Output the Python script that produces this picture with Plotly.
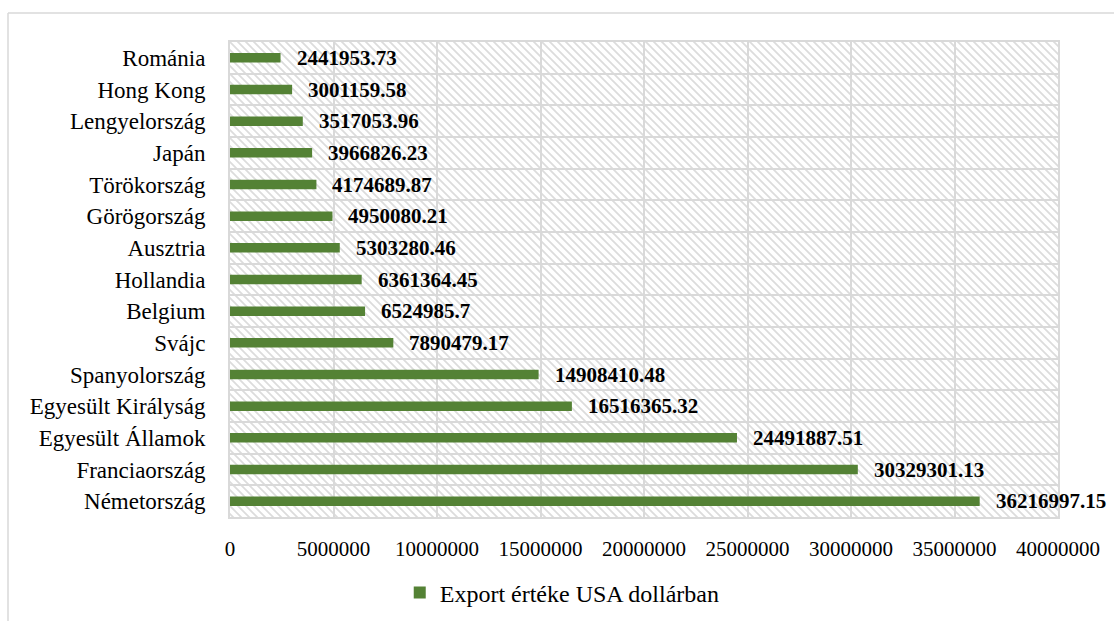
import base64
import plotly.graph_objects as go

# Export values by country (USD), listed bottom to top
countries = [
    "Németország", "Franciaország", "Egyesült Államok", "Egyesült Királyság",
    "Spanyolország", "Svájc", "Belgium", "Hollandia", "Ausztria",
    "Görögország", "Törökország", "Japán", "Lengyelország", "Hong Kong", "Románia",
]
export_usd = [
    36216997.15, 30329301.13, 24491887.51, 16516365.32, 14908410.48,
    7890479.17, 6524985.7, 6361364.45, 5303280.46, 4950080.21,
    4174689.87, 3966826.23, 3517053.96, 3001159.58, 2441953.73,
]
series_name = "Export értéke USA dollárban"

FONT = "Liberation Serif"
GREEN = "#548235"
GRID = "#d9d9d9"

W, H = 1114, 621
L, R, T, B = 230, 56, 42, 104
PW, PH = W - L - R, H - T - B

# Diagonal hatch tile used as the plot-area fill
svg = f"""<svg xmlns='http://www.w3.org/2000/svg' width='{PW}' height='{PH}'>
<defs><pattern id='h' width='8' height='8' patternUnits='userSpaceOnUse'>
<path d='M-2,-2 L10,10 M-2,6 L2,10 M6,-2 L10,2' stroke='#dcdcdc' stroke-width='1.8'/>
</pattern></defs>
<rect width='100%' height='100%' fill='url(#h)'/></svg>"""
hatch_src = "data:image/svg+xml;base64," + base64.b64encode(svg.encode()).decode()

fig = go.Figure(
    go.Bar(
        y=countries,
        x=export_usd,
        orientation="h",
        name=series_name,
        marker=dict(color=GREEN, line=dict(width=0)),
        width=0.3,
        showlegend=True,
    )
)

# Value labels just past the end of each bar
for c, v in zip(countries, export_usd):
    fig.add_annotation(
        x=v, y=c, text=f"<b>{v}</b>", showarrow=False,
        xanchor="left", yanchor="middle", xshift=14,
        font=dict(family=FONT, size=21, color="#000000"),
    )

# Outer chart frame (top and left edges)
fx0 = (8 - L) / PW
fy0 = (H - B - 13) / PH
fig.add_shape(type="line", xref="paper", yref="paper", x0=fx0, x1=(W + 10 - L) / PW,
              y0=fy0, y1=fy0, line=dict(color=GRID, width=1.5))
fig.add_shape(type="line", xref="paper", yref="paper", x0=fx0, x1=fx0,
              y0=fy0, y1=(H - B - H - 10) / PH, line=dict(color=GRID, width=1.5))

fig.add_layout_image(
    source=hatch_src, xref="paper", yref="paper", x=0, y=1,
    sizex=1, sizey=1, xanchor="left", yanchor="top",
    sizing="stretch", layer="below",
)

fig.update_layout(
    width=W, height=H,
    margin=dict(l=L, r=R, t=T, b=B, autoexpand=False),
    paper_bgcolor="white",
    plot_bgcolor="white",
    font=dict(family=FONT, color="#000000"),
    legend=dict(
        orientation="h", x=0.205, y=-0.16, xanchor="left", yanchor="middle",
        font=dict(family=FONT, size=24, color="#000000"),
    ),
    xaxis=dict(
        range=[0, 40000000], dtick=5000000, tick0=0, tickformat="d",
        showgrid=True, gridcolor=GRID, gridwidth=2,
        showline=True, linecolor=GRID, linewidth=2, mirror=True,
        zeroline=False, ticks="", ticklabelstandoff=12,
        tickfont=dict(family=FONT, size=21, color="#000000"),
        fixedrange=True, automargin=False,
    ),
    yaxis=dict(
        type="category", tickson="boundaries",
        showgrid=True, gridcolor=GRID, gridwidth=2,
        showline=True, linecolor=GRID, linewidth=2, mirror=True,
        ticks="", ticklabelstandoff=18,
        tickfont=dict(family=FONT, size=23, color="#000000"),
        fixedrange=True, automargin=False,
    ),
)

fig.write_html("out.html")
